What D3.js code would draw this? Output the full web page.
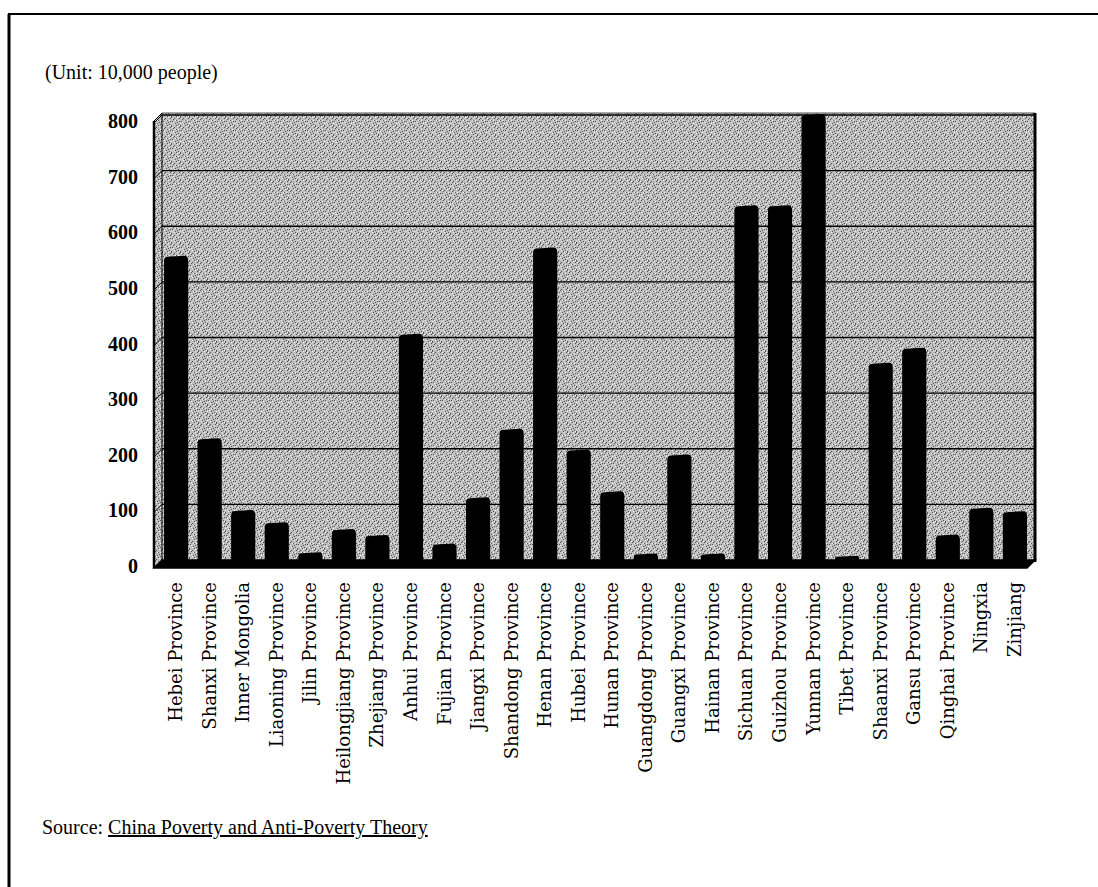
<!DOCTYPE html>
<html>
<head>
<meta charset="utf-8">
<script src="https://cdn.jsdelivr.net/npm/d3@7"></script>
<style>
  html, body { margin: 0; padding: 0; background: #fff; }
  svg { display: block; }
  text { font-family: "Liberation Serif", "DejaVu Serif", serif; fill: #000; }
  text.cat { font-family: "DejaVu Serif", serif; }
</style>
</head>
<body>
<svg id="chart" width="1098" height="887"></svg>
<script>
const categories = [
  "Hebei Province", "Shanxi Province", "Inner Mongolia", "Liaoning Province",
  "Jilin Province", "Heilongjiang Province", "Zhejiang Province", "Anhui Province",
  "Fujian Province", "Jiangxi Province", "Shandong Province", "Henan Province",
  "Hubei Province", "Hunan Province", "Guangdong Province", "Guangxi Province",
  "Hainan Province", "Sichuan Province", "Guizhou Province", "Yunnan Province",
  "Tibet Province", "Shaanxi Province", "Gansu Province", "Qinghai Province",
  "Ningxia", "Zinjiang"
];
const poorPopulation = [
  545, 217, 88, 66, 12, 54, 43, 405, 28, 111, 234, 560, 197, 122,
  10, 188, 10, 636, 636, 800, 6, 353, 380, 44, 92, 86
];
const yTicks = [0, 100, 200, 300, 400, 500, 600, 700, 800];
const unitLabel = "(Unit: 10,000 people)";
const sourcePrefix = "Source: ";
const sourceTitle = "China Poverty and Anti-Poverty Theory";

const svg = d3.select("#chart");

// texture pattern for the grey walls
const defs = svg.append("defs");
const pat = defs.append("pattern").attr("id", "stipple")
  .attr("patternUnits", "userSpaceOnUse").attr("width", 9).attr("height", 9);
pat.append("rect").attr("width", 9).attr("height", 9).attr("fill", "#bdbdbd");
[[0,0],[3,1],[5,3],[1,4],[4,6],[6,5],[2,2],[8,1],[7,7],[0,8],[5,8],[8,4]].forEach(([a,b]) =>
  pat.append("rect").attr("x", a).attr("y", b).attr("width", 1).attr("height", 1).attr("fill", "#555"));
[[1,1],[4,3],[6,0],[2,5],[0,6],[7,3],[3,7],[8,8]].forEach(([a,b]) =>
  pat.append("rect").attr("x", a).attr("y", b).attr("width", 1).attr("height", 1).attr("fill", "#f2f2f2"));

// frame
svg.append("line").attr("x1", 8).attr("x2", 1098).attr("y1", 14).attr("y2", 14)
  .attr("stroke", "#000").attr("stroke-width", 2);
svg.append("line").attr("x1", 9).attr("x2", 9).attr("y1", 14).attr("y2", 887)
  .attr("stroke", "#000").attr("stroke-width", 3);

// geometry
const wallLeft = 162, wallRight = 1035, wallTop = 113, base = 560;
const depth = 8; // 3D offset
const y = d3.scaleLinear().domain([0, 800]).range([base, wallTop + 2]);
const x = d3.scaleBand().domain(categories).range([wallLeft - 2, wallRight - 4])
  .paddingInner(0.28).paddingOuter(0.12);

// back wall
svg.append("rect").attr("x", wallLeft).attr("y", wallTop)
  .attr("width", wallRight - wallLeft).attr("height", base - wallTop)
  .attr("fill", "url(#stipple)");
// side wall
svg.append("path")
  .attr("d", `M${wallLeft - depth},${wallTop + depth} L${wallLeft},${wallTop} L${wallLeft},${base} L${wallLeft - depth},${base + depth} Z`)
  .attr("fill", "url(#stipple)").attr("stroke", "#000").attr("stroke-width", 1);
svg.append("line").attr("x1", wallLeft - depth).attr("x2", wallLeft - depth)
  .attr("y1", wallTop + depth).attr("y2", base + depth).attr("stroke", "#000").attr("stroke-width", 2.5);

// gridlines on back wall and side wall
svg.append("g").selectAll("line").data(yTicks.filter(d => d > 0)).join("line")
  .attr("x1", wallLeft).attr("x2", wallRight)
  .attr("y1", d => y(d)).attr("y2", d => y(d))
  .attr("stroke", "#000").attr("stroke-width", 1.4);
svg.append("g").selectAll("line").data(yTicks.filter(d => d > 0)).join("line")
  .attr("x1", wallLeft - depth).attr("x2", wallLeft)
  .attr("y1", d => y(d) + depth).attr("y2", d => y(d))
  .attr("stroke", "#000").attr("stroke-width", 1);
// top and right edges of the wall
svg.append("line").attr("x1", wallLeft).attr("x2", wallRight).attr("y1", wallTop).attr("y2", wallTop)
  .attr("stroke", "#555").attr("stroke-width", 1);
svg.append("line").attr("x1", wallRight).attr("x2", wallRight).attr("y1", wallTop).attr("y2", base + 2)
  .attr("stroke", "#000").attr("stroke-width", 3);

// floor
svg.append("path")
  .attr("d", `M${wallLeft - depth},${base + depth} L${wallLeft},${base} L${wallRight},${base} L${wallRight - depth},${base + depth} Z`)
  .attr("fill", "#000").attr("stroke", "#000").attr("stroke-width", 1.5);

// bars
svg.append("g").selectAll("path").data(categories).join("path")
  .attr("d", (d, i) => {
    const x0 = x(d), w = x.bandwidth(), top = y(poorPopulation[i]);
    const r = Math.min(4, (base - top) / 2);
    return `M${x0},${base + 2} L${x0},${top + r} Q${x0},${top} ${x0 + r},${top} L${x0 + w - r},${top - 1} Q${x0 + w},${top - 1} ${x0 + w},${top + r} L${x0 + w},${base + 2} Z`;
  })
  .attr("fill", "#000");

// y axis labels (front plane sits slightly lower than the back wall)
svg.append("g").selectAll("text").data(yTicks).join("text")
  .attr("x", 138).attr("y", d => y(d) + depth - 2)
  .attr("dy", "0.35em").attr("text-anchor", "end")
  .attr("font-size", 20).attr("font-weight", "bold")
  .text(d => d);

// category labels
svg.append("g").selectAll("text").data(categories).join("text")
  .attr("class", "cat")
  .attr("transform", d => `translate(${x(d) + x.bandwidth() / 2 + 6},${base + 22}) rotate(-90)`)
  .attr("text-anchor", "end")
  .attr("font-size", 18)
  .text(d => d);

// unit label
svg.append("text").attr("x", 45).attr("y", 79).attr("font-size", 20).text(unitLabel);

// source
const src = svg.append("text").attr("x", 42).attr("y", 834).attr("font-size", 20);
src.append("tspan").text(sourcePrefix);
src.append("tspan").attr("text-decoration", "underline").text(sourceTitle);
</script>
</body>
</html>
